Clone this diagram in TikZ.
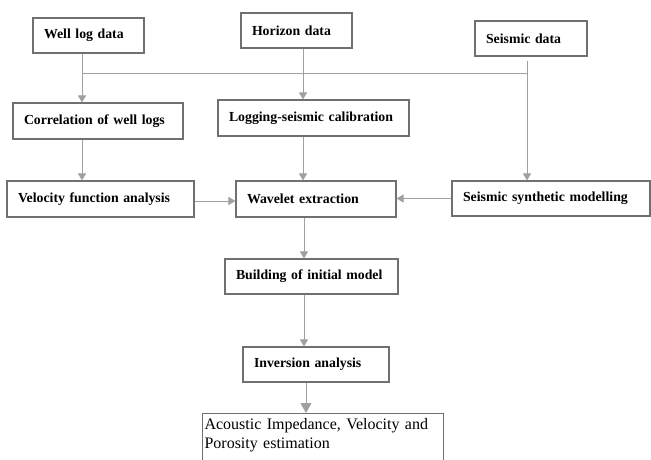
\documentclass[tikz,border=0pt]{standalone}
\usepackage{fontspec}
\setmainfont{Liberation Serif}
\usetikzlibrary{arrows.meta}
\definecolor{boxgray}{HTML}{707070}
\definecolor{linegray}{HTML}{A0A0A0}
\tikzset{
  x=1pt,y=1pt,
  stepbox/.style={draw=boxgray, line width=1.1pt, inner xsep=11pt, inner ysep=0pt,
    align=left, font=\fontsize{13.8}{16}\selectfont\bfseries, anchor=center},
  conn/.style={draw=linegray, line width=1pt},
  arr/.style={conn, -{Triangle[length=7pt,width=8pt]}, color=linegray},
  bigarr/.style={conn, -{Triangle[length=10pt,width=11pt]}, color=linegray}
}
\begin{document}
\begin{tikzpicture}
\useasboundingbox (0,0) rectangle (651,-459);
\clip (0,0) rectangle (651,-459);
\fill[white] (0,0) rectangle (651,-459);
% nodes
\node[stepbox, minimum height=35pt, text width=89pt] (well) at (88.5,-35.5) {Well log data};
\node[stepbox, minimum height=35pt, text width=89pt] (horizon) at (296.5,-30.5) {Horizon data};
\node[stepbox, minimum height=35pt, text width=90pt] (seismic) at (531,-38.5) {Seismic data};
\node[stepbox, minimum height=36pt, text width=148pt] (corr) at (98,-121) {Correlation of well logs};
\node[stepbox, minimum height=36pt, text width=169pt] (logging) at (313.5,-118) {Logging-seismic calibration};
\node[stepbox, minimum height=36pt, text width=165pt] (velocity) at (100.5,-199) {Velocity function analysis};
\node[stepbox, minimum height=36pt, text width=138pt] (wavelet) at (316,-199) {Wavelet extraction};
\node[stepbox, minimum height=35pt, text width=176pt] (synth) at (551,-198.5) {Seismic synthetic modelling};
\node[stepbox, minimum height=35pt, text width=151pt] (building) at (311.5,-276.5) {Building of initial model};
\node[stepbox, minimum height=35pt, text width=124pt] (inversion) at (316,-364.5) {Inversion analysis};
\node[draw=boxgray, line width=1.1pt, inner xsep=2pt, inner ysep=4.5pt, anchor=north west,
  text width=237pt, align=left,
  font=\fontsize{16}{19.5}\selectfont] (acoustic) at (202,-413) {Acoustic Impedance, Velocity and\\Porosity estimation\\[20pt]\mbox{}};
% junction coordinates
\coordinate (jl) at (82,-73);
\coordinate (jr) at (527,-73);
\coordinate (jh) at (303,-73);
\coordinate (jc) at (304,-230);
% connectors
\draw[conn] (jl) -- (jr);
\draw[arr] (jl |- well.south) -- (jl |- corr.north);
\draw[arr] (jh |- horizon.south) -- (jh |- logging.north);
\draw[arr] ([yshift=-4pt]jr |- seismic.south) -- (jr |- synth.north);
\draw[arr] (jl |- corr.south) -- (jl |- velocity.north);
\draw[arr] (jh |- logging.south) -- (jh |- wavelet.north);
\draw[arr] ([yshift=-2pt]velocity.east) -- ([yshift=-2pt]velocity.east -| wavelet.west);
\draw[arr] (synth.west) -- (synth.west -| wavelet.east);
\draw[arr] (jc |- wavelet.south) -- (jc |- building.north);
\draw[arr] (jc |- building.south) -- (jc |- inversion.north);
\draw[bigarr] ([xshift=2pt]jc |- inversion.south) -- ([xshift=2pt]jc |- acoustic.north);
\end{tikzpicture}
\end{document}
